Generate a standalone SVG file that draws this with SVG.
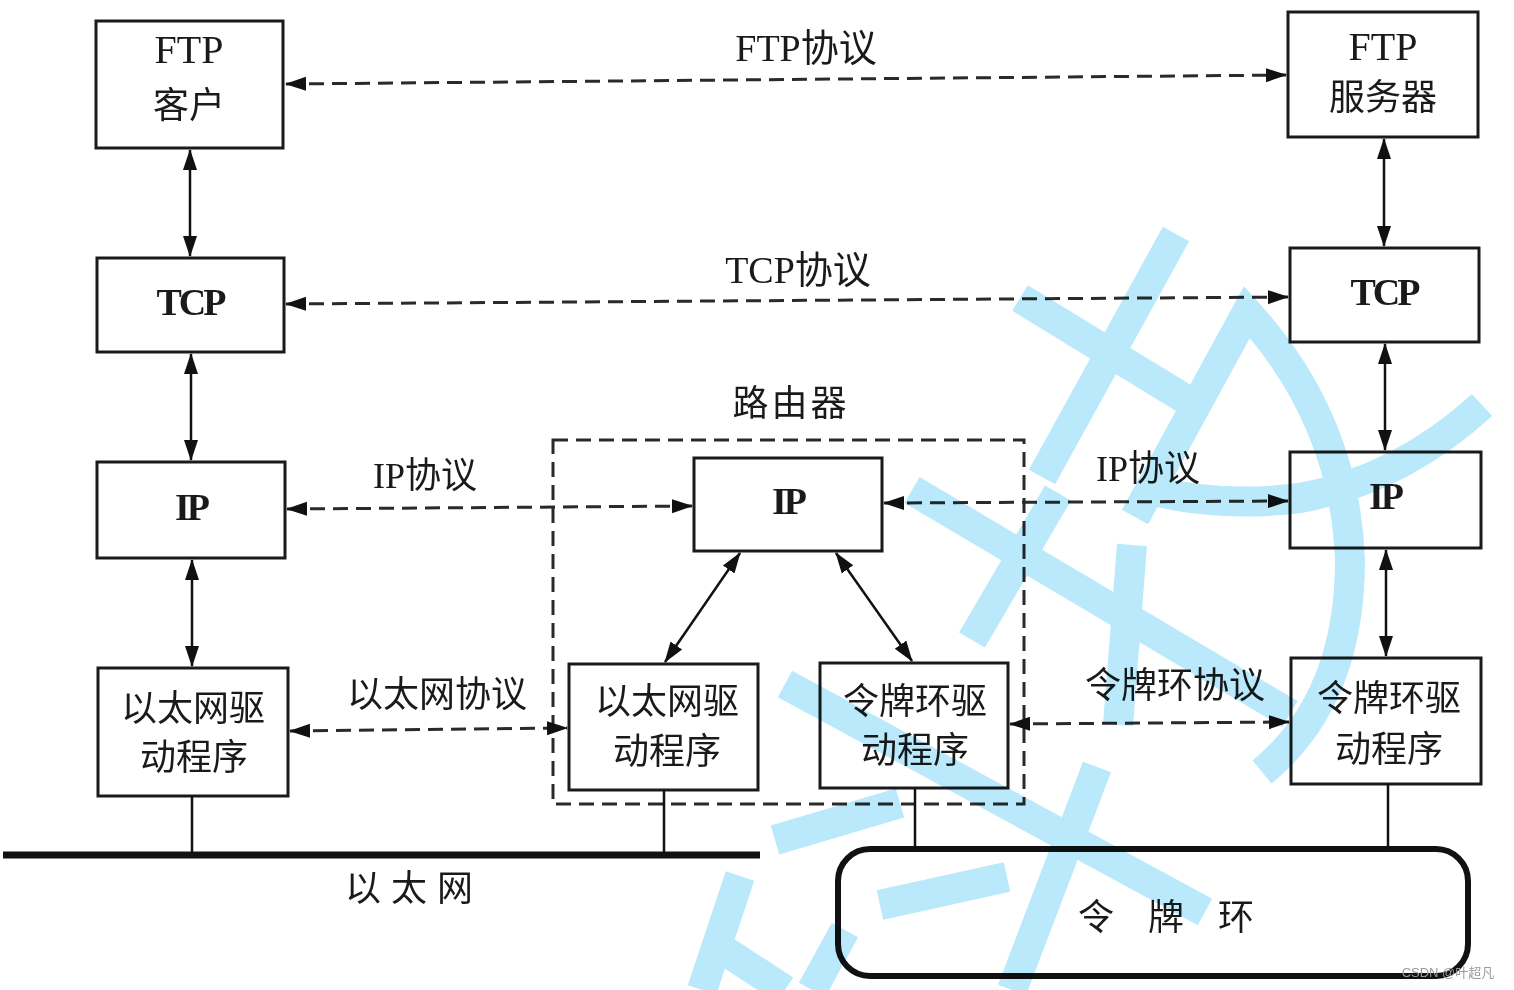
<svg xmlns="http://www.w3.org/2000/svg" width="1514" height="990" viewBox="0 0 1514 990">
<defs>
<marker id="ah" markerUnits="userSpaceOnUse" markerWidth="22" markerHeight="16" refX="20" refY="7" orient="auto-start-reverse" viewBox="0 0 22 14">
<path d="M0,0 L21,7 L0,14 z" fill="#111"/>
</marker>
</defs>
<style>
.box{fill:none;stroke:#1a1a1a;stroke-width:3}
.t{font-family:"Liberation Serif","Noto Sans CJK SC",serif;fill:#1a1a1a;text-anchor:middle}
.cn{font-size:36px}
.lat{font-size:40px}
.b{font-size:38px;font-weight:bold;letter-spacing:-3px}
.dash{fill:none;stroke:#2a2a2a;stroke-width:3;stroke-dasharray:15 8}
.sol{fill:none;stroke:#111;stroke-width:2.5}
.wm{fill:none;stroke:#b9e9fb;stroke-width:30;stroke-linejoin:miter}
</style>
<rect width="1514" height="990" fill="#fff"/>

<g id="ftp-client"><rect class="box" x="96" y="21" width="187" height="127"/><text class="t lat" x="189" y="63">FTP</text><text class="t cn" x="189" y="118">客户</text></g>
<g id="ftp-server"><rect class="box" x="1288" y="12" width="190" height="125"/><text class="t lat" x="1383" y="60">FTP</text><text class="t cn" x="1383" y="110">服务器</text></g>
<g id="tcp-left"><rect class="box" x="97" y="258" width="187" height="94"/><text class="t b" x="190" y="315">TCP</text></g>
<g id="tcp-right"><rect class="box" x="1290" y="248" width="189" height="94"/><text class="t b" x="1384" y="305">TCP</text></g>
<g id="ip-left"><rect class="box" x="97" y="462" width="188" height="96"/><text class="t b" x="191" y="520">IP</text></g>
<g id="ip-router"><rect class="box" x="694" y="458" width="188" height="93"/><text class="t b" x="788" y="514">IP</text></g>
<g id="ip-right"><rect class="box" x="1290" y="452" width="191" height="96"/><text class="t b" x="1385" y="509">IP</text></g>
<g id="eth-left"><rect class="box" x="98" y="668" width="190" height="128"/><text class="t cn" x="193" y="721">以太网驱</text><text class="t cn" x="194" y="770">动程序</text></g>
<g id="eth-router"><rect class="box" x="569" y="664" width="189" height="126"/><text class="t cn" x="667" y="714">以太网驱</text><text class="t cn" x="667" y="764">动程序</text></g>
<g id="tr-router"><rect class="box" x="820" y="663" width="188" height="125"/><text class="t cn" x="915" y="714">令牌环驱</text><text class="t cn" x="915" y="763">动程序</text></g>
<g id="tr-right"><rect class="box" x="1291" y="658" width="190" height="126"/><text class="t cn" x="1389" y="711">令牌环驱</text><text class="t cn" x="1389" y="762">动程序</text></g>
<g id="router"><rect x="553" y="440" width="471" height="364" fill="none" stroke="#2a2a2a" stroke-width="3" stroke-dasharray="15 8"/><text class="t cn" x="791" y="416" letter-spacing="3">路由器</text></g>
<g id="ethernet"><line x1="3" y1="855" x2="760" y2="855" stroke="#111" stroke-width="7"/><text class="t cn" x="414" y="901" letter-spacing="10">以太网</text></g>
<g id="token-ring"><rect x="838" y="849" width="630" height="127" rx="32" fill="none" stroke="#111" stroke-width="6"/><text class="t cn" x="1183" y="930" letter-spacing="34">令牌环</text></g>

<g id="connectors">
<line class="dash" x1="286" y1="84" x2="1286" y2="75" marker-start="url(#ah)" marker-end="url(#ah)"/>
<line class="dash" x1="286" y1="304" x2="1288" y2="297" marker-start="url(#ah)" marker-end="url(#ah)"/>
<line class="dash" x1="287" y1="509" x2="692" y2="506" marker-start="url(#ah)" marker-end="url(#ah)"/>
<line class="dash" x1="884" y1="503" x2="1288" y2="501" marker-start="url(#ah)" marker-end="url(#ah)"/>
<line class="dash" x1="290" y1="731" x2="567" y2="728" marker-start="url(#ah)" marker-end="url(#ah)"/>
<line class="dash" x1="1010" y1="724" x2="1289" y2="722" marker-start="url(#ah)" marker-end="url(#ah)"/>
<line class="sol" x1="190" y1="150" x2="190" y2="256" marker-start="url(#ah)" marker-end="url(#ah)"/>
<line class="sol" x1="191" y1="354" x2="191" y2="460" marker-start="url(#ah)" marker-end="url(#ah)"/>
<line class="sol" x1="192" y1="560" x2="192" y2="666" marker-start="url(#ah)" marker-end="url(#ah)"/>
<line class="sol" x1="1384" y1="139" x2="1384" y2="246" marker-start="url(#ah)" marker-end="url(#ah)"/>
<line class="sol" x1="1385" y1="344" x2="1385" y2="450" marker-start="url(#ah)" marker-end="url(#ah)"/>
<line class="sol" x1="1386" y1="550" x2="1386" y2="656" marker-start="url(#ah)" marker-end="url(#ah)"/>
<line class="sol" x1="740" y1="553" x2="665" y2="662" marker-start="url(#ah)" marker-end="url(#ah)"/>
<line class="sol" x1="836" y1="553" x2="912" y2="661" marker-start="url(#ah)" marker-end="url(#ah)"/>
<line class="sol" x1="192" y1="796" x2="192" y2="853"/>
<line class="sol" x1="664" y1="790" x2="664" y2="853"/>
<line class="sol" x1="915" y1="788" x2="915" y2="849"/>
<line class="sol" x1="1388" y1="784" x2="1388" y2="849"/>
</g>

<g id="labels">
<text class="t" font-size="38" x="806" y="61">FTP协议</text>
<text class="t" font-size="38" x="798" y="283">TCP协议</text>
<text class="t cn" x="425" y="488">IP协议</text>
<text class="t cn" x="1148" y="481">IP协议</text>
<text class="t cn" x="437" y="707">以太网协议</text>
<text class="t cn" x="1175" y="698">令牌环协议</text>
</g>

<g id="watermark" style="mix-blend-mode:multiply">
<path class="wm" d="M1176,234 L1042,477"/>
<path class="wm" d="M1020,298 L1195,405"/>
<path class="wm" d="M1135,517 L1247,312 Q1345,420 1350,560 Q1350,700 1262,772"/>
<path class="wm" d="M1482,405 Q1400,480 1300,498 Q1220,508 1150,490"/>
<path class="wm" d="M912,490 L1290,714"/>
<path class="wm" d="M1058,493 L972,640"/>
<path class="wm" d="M1132,545 L1118,725"/>
<path class="wm" d="M785,684 L1205,912"/>
<path class="wm" stroke-width="36" d="M1097,767 L1012,990"/>
<path class="wm" d="M775,840 L900,803"/>
<path class="wm" d="M880,905 L1007,877"/>
<path class="wm" d="M845,930 L812,990"/>
<path class="wm" d="M740,876 L702,990"/>
<path class="wm" d="M716,945 L785,990"/>
</g>
<text x="1448" y="977" font-family="'Liberation Sans','Noto Sans CJK SC',sans-serif" font-size="13" fill="#999" text-anchor="middle">CSDN @叶超凡</text>
</svg>
